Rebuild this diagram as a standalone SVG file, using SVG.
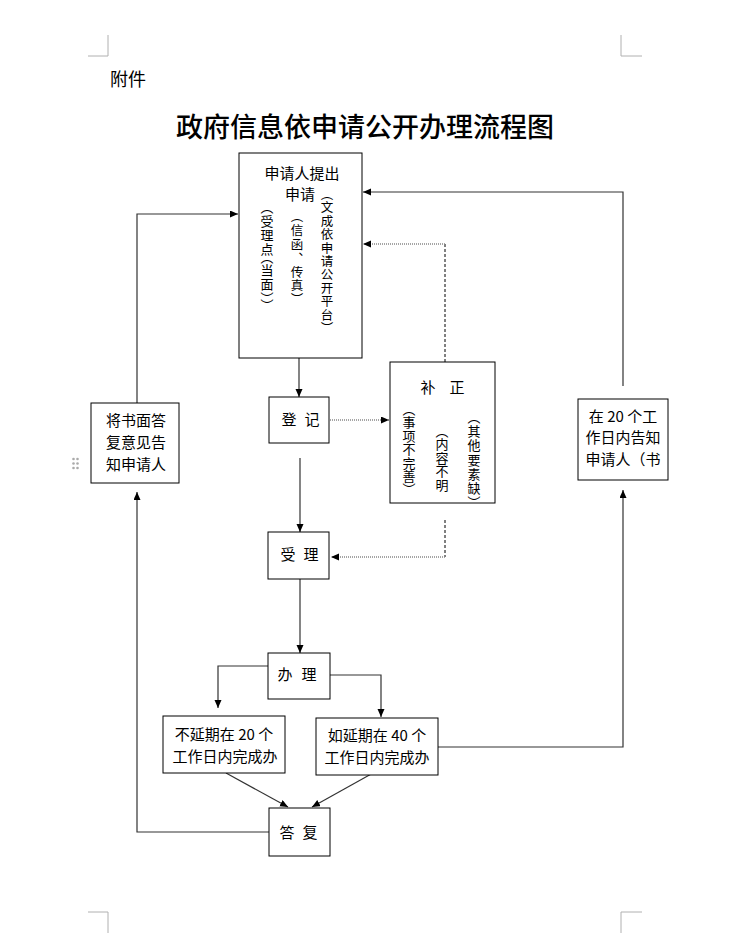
<svg xmlns="http://www.w3.org/2000/svg" width="732" height="939" viewBox="0 0 732 939">
<style>
  .box { fill: #fff; stroke: #000; stroke-width: 1; }
  .t { font-family: "Noto Sans CJK SC", "Liberation Sans", sans-serif; fill: #000; }
  .c { font-size: 15px; text-anchor: middle; }
  .v { font-size: 12.5px; writing-mode: vertical-rl; }
  .vp { font-size: 13px; writing-mode: vertical-rl; font-feature-settings: "vpal" 1; }
  .ln { fill: none; stroke: #333; stroke-width: 1.2; }
  .dot { fill: none; stroke: #888; stroke-width: 1.6; stroke-dasharray: 1 1; }
  .dash { fill: none; stroke: #000; stroke-width: 1; stroke-dasharray: 3 2; }
  .crop { fill: none; stroke: #b0b0b0; stroke-width: 1; }
</style>
<defs>
  <marker id="ah" markerUnits="userSpaceOnUse" markerWidth="9" markerHeight="8" refX="8" refY="3.5" orient="auto">
    <path d="M0,0 L8,3.5 L0,7 Z" fill="#000"/>
  </marker>
</defs>
<rect width="732" height="939" fill="#fff"/>

<g id="page-marks">
  <path class="crop" d="M88,56 H108 V35"/>
  <path class="crop" d="M642,56 H621 V35"/>
  <path class="crop" d="M88,912 H108 V933"/>
  <path class="crop" d="M642,912 H621 V933"/>
  <g fill="#aaa">
    <circle cx="73.5" cy="459" r="1.3"/><circle cx="77.5" cy="459" r="1.3"/>
    <circle cx="73.5" cy="463.5" r="1.3"/><circle cx="77.5" cy="463.5" r="1.3"/>
    <circle cx="73.5" cy="468" r="1.3"/><circle cx="77.5" cy="468" r="1.3"/>
  </g>
</g>

<g id="header">
  <text class="t" x="110" y="86" font-size="18">附件</text>
  <text class="t" x="365" y="137" font-size="27" font-weight="500" text-anchor="middle">政府信息依申请公开办理流程图</text>
</g>

<g id="connectors">
  <path class="ln" d="M299,348 V397" marker-end="url(#ah)"/>
  <path class="dot" d="M330,420 H389" marker-end="url(#ah)"/>
  <path class="dash" d="M445,362 V244"/>
  <path class="dot" d="M445,244 H363" marker-end="url(#ah)"/>
  <path class="dash" d="M445,520 V557"/>
  <path class="dot" d="M445,557 H331" marker-end="url(#ah)"/>
  <path class="ln" d="M300,458 V532" marker-end="url(#ah)"/>
  <path class="ln" d="M300,579 V653" marker-end="url(#ah)"/>
  <path class="ln" d="M268,666 H218 V708" marker-end="url(#ah)"/>
  <path class="ln" d="M330,675 H381 V717" marker-end="url(#ah)"/>
  <path class="ln" d="M226,773 L288,807" marker-end="url(#ah)"/>
  <path class="ln" d="M373,773 L312,807" marker-end="url(#ah)"/>
  <path class="ln" d="M269,832 H137 V492" marker-end="url(#ah)"/>
  <path class="ln" d="M137,403 V214 H238" marker-end="url(#ah)"/>
  <path class="ln" d="M438,747 H623 V490" marker-end="url(#ah)"/>
  <path class="ln" d="M623,386 V192 H363" marker-end="url(#ah)"/>
  <path d="M110,462 L113.5,470 L106.5,470 Z" fill="#000"/>
</g>

<g id="apply">
  <rect class="box" x="239" y="153" width="123" height="205"/>
  <text class="t c" font-size="14.5"><tspan x="302" y="179">申请人提出</tspan><tspan x="300" y="200">申请</tspan></text>
  <text class="t v" x="327" y="188" letter-spacing="0.9">（文成依申请公开平台）</text>
  <text class="t v" x="297" y="210" letter-spacing="1.4">（信函、传真）</text>
  <text class="t vp" x="267" y="207" letter-spacing="1">（受理点（当面））</text>
</g>

<g id="register">
  <rect class="box" x="269" y="397" width="60" height="46"/>
  <text class="t c" x="289" y="425">登</text>
  <text class="t c" x="312" y="425">记</text>
</g>

<g id="correct">
  <rect class="box" x="390" y="362" width="105" height="141"/>
  <text class="t c" x="428" y="393">补</text>
  <text class="t c" x="457" y="393">正</text>
  <text class="t vp" x="409" y="409" letter-spacing="0.5">（事项不完善）</text>
  <text class="t vp" x="442" y="431" letter-spacing="0.4">（内容不明</text>
  <text class="t vp" x="474" y="417" letter-spacing="1.2">（其他要素缺）</text>
</g>

<g id="accept">
  <rect class="box" x="268" y="532" width="61" height="47"/>
  <text class="t c" x="288" y="560">受</text>
  <text class="t c" x="311" y="560">理</text>
</g>

<g id="handle">
  <rect class="box" x="268" y="653" width="62" height="46"/>
  <text class="t c" x="285" y="680">办</text>
  <text class="t c" x="309" y="680">理</text>
</g>

<g id="no-extend">
  <rect class="box" x="163" y="716" width="122" height="57"/>
  <text class="t c" x="224" y="740">不延期在 20 个</text>
  <text class="t c" x="225" y="762">工作日内完成办</text>
</g>

<g id="extend">
  <rect class="box" x="316" y="718" width="122" height="57"/>
  <text class="t c" x="377" y="741">如延期在 40 个</text>
  <text class="t c" x="377" y="763">工作日内完成办</text>
</g>

<g id="reply">
  <rect class="box" x="269" y="808" width="61" height="48"/>
  <text class="t c" x="287" y="838">答</text>
  <text class="t c" x="310" y="838">复</text>
</g>

<g id="notify-written">
  <rect class="box" x="91" y="403" width="88" height="80"/>
  <text class="t c" x="136" y="426">将书面答</text>
  <text class="t c" x="136" y="448">复意见告</text>
  <text class="t c" x="136" y="470">知申请人</text>
</g>

<g id="notify-20">
  <rect class="box" x="578" y="399" width="90" height="81"/>
  <text class="t c" x="623" y="422" font-size="14.5">在 20 个工</text>
  <text class="t c" x="623" y="443" font-size="14.5">作日内告知</text>
  <text class="t c" x="623" y="465" font-size="14.5">申请人（书</text>
</g>
</svg>
